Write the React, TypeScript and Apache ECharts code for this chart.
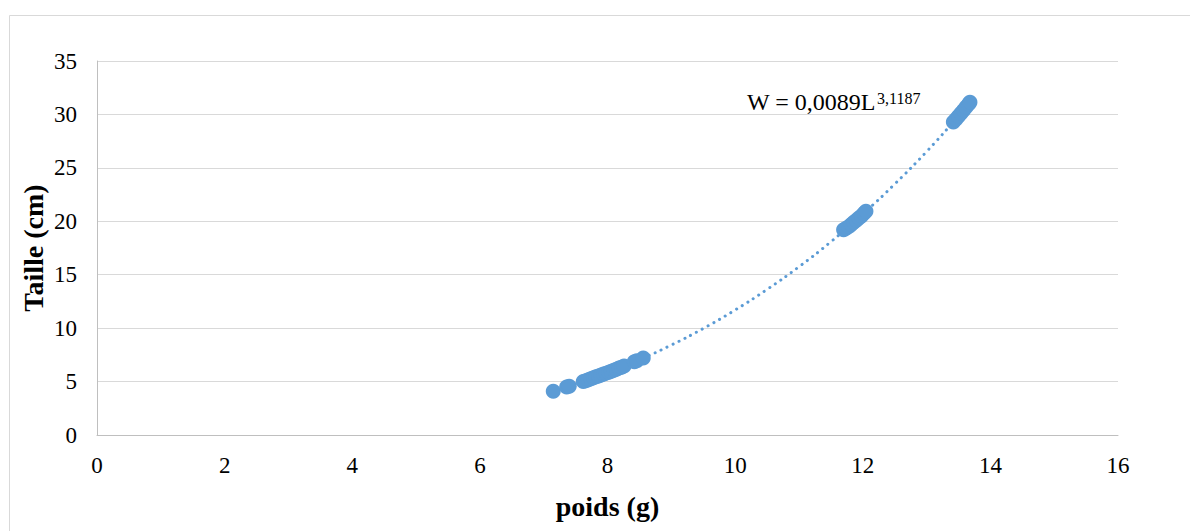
import React, { useEffect, useRef } from "react";
import * as echarts from "echarts";

const poidsCluster1 = [7.15, 7.36, 7.4, 7.62, 7.66, 7.7, 7.74, 7.78, 7.82, 7.86, 7.9, 7.94, 7.98, 8.02, 8.06, 8.1, 8.14, 8.18, 8.22, 8.26, 8.42, 8.46, 8.56];
const tailleCluster1 = [4.1, 4.49, 4.57, 5.0, 5.08, 5.18, 5.27, 5.35, 5.44, 5.52, 5.61, 5.7, 5.79, 5.88, 5.97, 6.06, 6.16, 6.26, 6.35, 6.45, 6.85, 6.95, 7.2];
const poidsCluster2 = [11.7, 11.74, 11.78, 11.82, 11.86, 11.9, 11.94, 11.98, 12.02, 12.05];
const tailleCluster2 = [19.2, 19.35, 19.5, 19.7, 19.9, 20.1, 20.3, 20.5, 20.75, 20.95];
const poidsCluster3 = [13.42, 13.46, 13.5, 13.54, 13.58, 13.62, 13.66, 13.68];
const tailleCluster3 = [29.3, 29.55, 29.83, 30.1, 30.4, 30.7, 30.97, 31.15];

const trendX = [7.1, 7.5, 8.0, 8.5, 9.0, 9.5, 10.0, 10.5, 11.0, 11.5, 12.0, 12.5, 13.0, 13.5, 13.7];
const trendY = [4.02, 4.77, 5.83, 7.05, 8.42, 9.97, 11.7, 13.62, 15.74, 18.08, 20.67, 23.48, 26.52, 29.83, 31.2];

const xTicks = { min: 0, max: 16, interval: 2 };
const yTicks = { min: 0, max: 35, interval: 5 };

const equationMain = "W = 0,0089L";
const equationExp = "3,1187";
const xTitle = "poids (g)";
const yTitle = "Taille (cm)";

const FONT = "'Liberation Serif', 'Times New Roman', serif";
const BLUE = "#5B9BD5";

export default function App() {
  const ref = useRef<HTMLDivElement>(null);
  useEffect(() => {
    if (!ref.current) return;
    const chart = echarts.init(ref.current, undefined, { renderer: "svg" });
    const pts: number[][] = [];
    poidsCluster1.forEach((x, i) => pts.push([x, tailleCluster1[i]]));
    poidsCluster2.forEach((x, i) => pts.push([x, tailleCluster2[i]]));
    poidsCluster3.forEach((x, i) => pts.push([x, tailleCluster3[i]]));
    const trend = trendX.map((x, i) => [x, trendY[i]]);
    chart.setOption({
      animation: false,
      backgroundColor: "#ffffff",
      grid: { left: 97, right: 72, top: 61, bottom: 96, containLabel: false },
      xAxis: {
        type: "value",
        min: xTicks.min,
        max: xTicks.max,
        interval: xTicks.interval,
        axisLine: { show: true, lineStyle: { color: "#bfbfbf", width: 1 } },
        axisTick: { show: false },
        splitLine: { show: false },
        axisLabel: { fontFamily: FONT, fontSize: 23, color: "#000", margin: 19 },
      },
      yAxis: {
        type: "value",
        min: yTicks.min,
        max: yTicks.max,
        interval: yTicks.interval,
        axisLine: { show: true, lineStyle: { color: "#bfbfbf", width: 1 } },
        axisTick: { show: false },
        splitLine: { show: true, lineStyle: { color: "#d9d9d9", width: 1 } },
        axisLabel: { fontFamily: FONT, fontSize: 23, color: "#000", margin: 20 },
      },
      graphic: [
        {
          type: "rect",
          shape: { x: 9.5, y: 15.5, width: 1300, height: 700 },
          style: { fill: "none", stroke: "#d9d9d9", lineWidth: 1 },
          z: -10,
          silent: true,
        },
        {
          type: "text",
          x: 33,
          y: 248,
          rotation: Math.PI / 2,
          style: {
            text: yTitle,
            font: `bold 28px ${FONT}`,
            fill: "#000",
            textAlign: "center",
            textVerticalAlign: "middle",
          },
        },
        {
          type: "text",
          x: 607.5,
          y: 506,
          style: {
            text: xTitle,
            font: `bold 28px ${FONT}`,
            fill: "#000",
            textAlign: "center",
            textVerticalAlign: "middle",
          },
        },
        {
          type: "text",
          x: 747,
          y: 102,
          style: {
            text: equationMain,
            font: `24px ${FONT}`,
            fill: "#000",
            textAlign: "left",
            textVerticalAlign: "middle",
          },
        },
        {
          type: "text",
          x: 877,
          y: 98,
          style: {
            text: equationExp,
            font: `16px ${FONT}`,
            fill: "#000",
            textAlign: "left",
            textVerticalAlign: "middle",
          },
        },
      ],
      series: [
        {
          type: "line",
          data: trend,
          smooth: true,
          showSymbol: false,
          symbol: "none",
          z: 1,
          lineStyle: { color: BLUE, width: 3, type: [0.1, 6.5], cap: "round" },
        },
        {
          type: "scatter",
          data: pts,
          symbol: "circle",
          symbolSize: 15,
          z: 2,
          itemStyle: { color: BLUE, opacity: 1 },
        },
      ],
    });
    return () => chart.dispose();
  }, []);
  return (
    <div
      ref={ref}
      style={{ position: "fixed", left: 0, top: 0, width: 1190, height: 531 }}
    />
  );
}
